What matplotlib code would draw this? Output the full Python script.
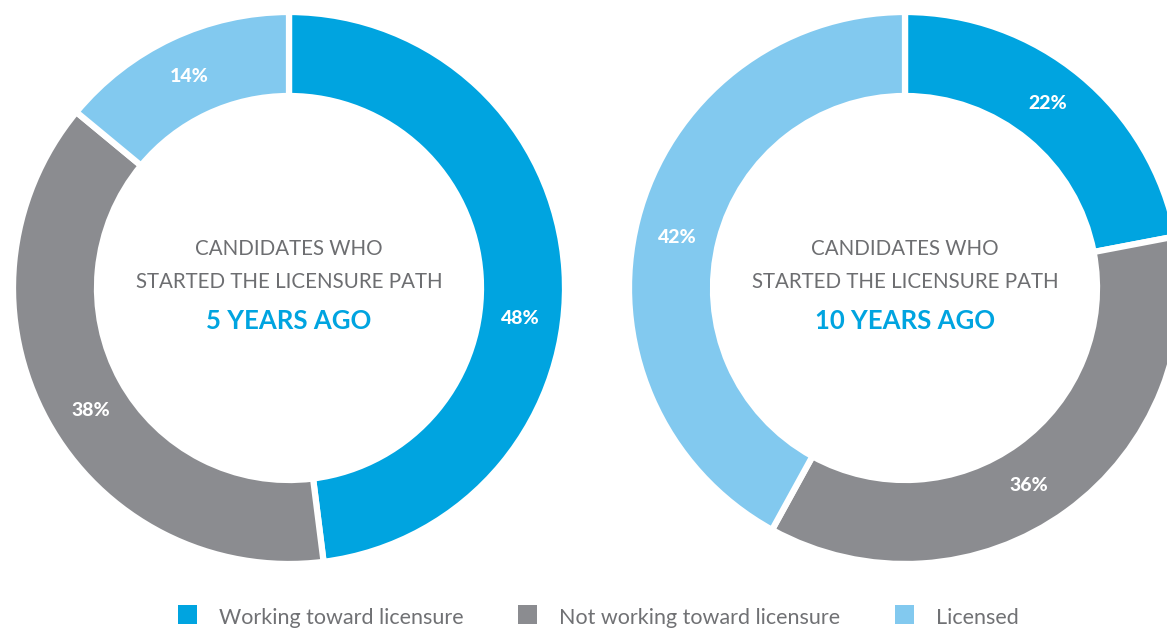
import matplotlib.pyplot as plt
from matplotlib.patches import Rectangle
import numpy as np

# Data
categories = ['Working toward licensure', 'Not working toward licensure', 'Licensed']
colors = ['#00A4E0', '#8B8C90', '#82C9EF']
five_years = [48, 38, 14]
ten_years = [22, 36, 42]
titles = ['5 YEARS AGO', '10 YEARS AGO']

plt.rcParams['font.family'] = ['Lato', 'DejaVu Sans']

W, H = 1167, 629
fig = plt.figure(figsize=(W / 100, H / 100), dpi=100)

R = 276
inner = 192


def donut(cx, cy, values, title, nudge):
    ax = fig.add_axes([(cx - R) / W, (H - cy - R) / H, 2 * R / W, 2 * R / H])
    ax.pie(values, colors=colors, startangle=90, counterclock=False, radius=1,
           wedgeprops=dict(width=1 - inner / R, edgecolor='white', linewidth=4.5))
    ax.set_xlim(-1, 1)
    ax.set_ylim(-1, 1)
    ax.set_aspect('equal')
    ax.axis('off')

    # percent labels near the mid-angle of each wedge
    start = 90
    for v, dn in zip(values, nudge):
        mid = start - v * 3.6 / 2 + dn
        r = 0.845
        ax.text(r * np.cos(np.radians(mid)), r * np.sin(np.radians(mid)), f'{v}%',
                color='white', fontsize=14, fontweight='black', ha='center', va='center')
        start -= v * 3.6

    ax.text(0, 39 / R, 'CANDIDATES WHO', color='#6D6E71', fontsize=14.8,
            ha='center', va='center')
    ax.text(0, 6 / R, 'STARTED THE LICENSURE PATH', color='#6D6E71', fontsize=14.8,
            ha='center', va='center')
    ax.text(0, -33 / R, title, color='#00A4E0', fontsize=18.5, fontweight='bold',
            ha='center', va='center')


donut(289, 288, five_years, titles[0], [-11, 3, 0])
donut(905, 288, ten_years, titles[1], [2, -4, 2])

# Legend
square_x = [178, 518, 895]
for x, c, lab in zip(square_x, colors, categories):
    fig.patches.append(Rectangle((x / W, (H - 624) / H), 19 / W, 19 / H,
                                 transform=fig.transFigure, facecolor=c, edgecolor='none'))
    fig.text((x + 41) / W, (H - 624) / H, lab, color='#707174', fontsize=15.5,
             ha='left', va='baseline')

fig.savefig('out.png', dpi=100, facecolor='white')
